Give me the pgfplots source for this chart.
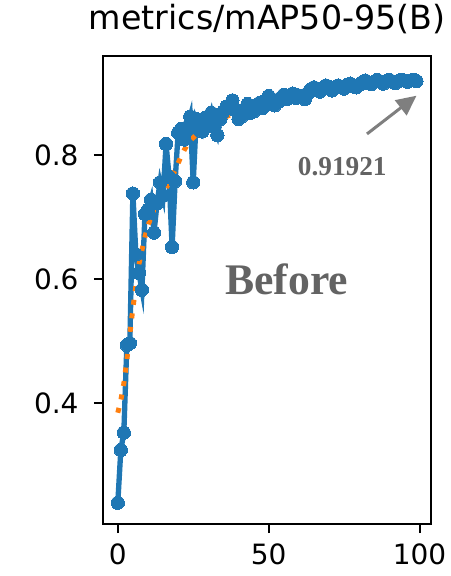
\documentclass[border=0pt]{standalone}
\usepackage{fontspec}
\setmainfont{DejaVu Sans}
\newfontfamily\timesfont{Liberation Serif}
\usepackage{pgfplots}
\pgfplotsset{compat=1.18}
\usetikzlibrary{arrows.meta}
\definecolor{mplblue}{HTML}{1F77B4}
\definecolor{mplorange}{HTML}{FF7F0E}
\definecolor{annot}{HTML}{636363}
\definecolor{arrowgray}{HTML}{7F7F7F}
\begin{document}
\begin{tikzpicture}
\begin{axis}[
  scale only axis, width=246.75pt, height=351.75pt,
  xmin=-4.95, xmax=103.95, ymin=0.2057, ymax=0.9600,
  xtick={0,50,100}, ytick={0.4,0.6,0.8},
  xtick pos=bottom, ytick pos=left,
  yticklabel style={/pgf/number format/fixed, /pgf/number format/precision=1, /pgf/number format/fixed zerofill},
  /pgf/number format/assume math mode=true,
  tick align=outside, major tick length=6.75pt,
  xticklabel shift=4.5pt, yticklabel shift=8pt,
  tick style={black, line width=1.5pt},
  axis line style={line width=1.5pt},
  every tick label/.append style={font=\fontsize{21}{25}\selectfont},
  title={metrics/mAP50-95(B)},
  title style={font=\fontsize{25}{30}\selectfont, at={(0.5,1)}, anchor=base, yshift=13.5pt},
]
\addplot[mplblue, line width=4pt, mark=*, mark size=5pt, mark options={line width=0pt, fill=mplblue, draw=mplblue}] coordinates {
(0,0.240)(1,0.325)(2,0.353)(3,0.494)(4,0.497)(5,0.738)(6,0.640)(7,0.610)(8,0.583)(9,0.705)
(10,0.712)(11,0.728)(12,0.675)(13,0.722)(14,0.756)(15,0.735)(16,0.818)(17,0.765)(18,0.652)(19,0.758)
(20,0.836)(21,0.842)(22,0.825)(23,0.845)(24,0.862)(25,0.756)(26,0.858)(27,0.848)(28,0.838)(29,0.860)
(30,0.852)(31,0.868)(32,0.845)(33,0.832)(34,0.858)(35,0.870)(36,0.878)(37,0.880)(38,0.888)(39,0.872)
(40,0.858)(41,0.862)(42,0.874)(43,0.882)(44,0.868)(45,0.870)(46,0.880)(47,0.884)(48,0.876)(49,0.888)
(50,0.895)(51,0.890)(52,0.880)(53,0.885)(54,0.892)(55,0.897)(56,0.890)(57,0.894)(58,0.899)(59,0.892)
(60,0.896)(61,0.894)(62,0.890)(63,0.900)(64,0.906)(65,0.909)(66,0.905)(67,0.902)(68,0.908)(69,0.912)
(70,0.910)(71,0.904)(72,0.908)(73,0.912)(74,0.909)(75,0.907)(76,0.913)(77,0.915)(78,0.911)(79,0.909)
(80,0.913)(81,0.917)(82,0.920)(83,0.916)(84,0.914)(85,0.918)(86,0.921)(87,0.918)(88,0.915)(89,0.919)
(90,0.921)(91,0.918)(92,0.916)(93,0.919)(94,0.921)(95,0.920)(96,0.918)(97,0.920)(98,0.921)(99,0.919)
};
\addplot[mplorange, line width=3.75pt, dash pattern=on 3.75pt off 6.5pt, line cap=butt, no markers] coordinates {
(0,0.385)(1,0.405)(2,0.432)(3,0.470)(4,0.512)(5,0.553)(6,0.590)(7,0.624)(8,0.647)(9,0.668)
(10,0.686)(11,0.700)(12,0.712)(13,0.722)(14,0.731)(15,0.739)(16,0.747)(17,0.755)(18,0.765)(19,0.776)
(20,0.787)(21,0.798)(22,0.808)(23,0.816)(24,0.823)(25,0.828)(26,0.833)(27,0.838)(28,0.841)(29,0.845)
(30,0.848)(31,0.851)(32,0.853)(33,0.856)(34,0.858)(35,0.860)(36,0.862)(37,0.864)(38,0.866)(39,0.868)
(40,0.870)(41,0.872)(42,0.873)(43,0.875)(44,0.876)(45,0.877)(46,0.878)(47,0.880)(48,0.882)(49,0.884)
(50,0.886)(51,0.888)(52,0.890)(53,0.892)(54,0.894)(55,0.896)(56,0.896)(57,0.897)(58,0.897)(59,0.898)
(60,0.898)(61,0.900)(62,0.902)(63,0.903)(64,0.905)(65,0.906)(66,0.907)(67,0.907)(68,0.908)(69,0.909)
(70,0.909)(71,0.910)(72,0.911)(73,0.911)(74,0.912)(75,0.912)(76,0.913)(77,0.913)(78,0.914)(79,0.915)
(80,0.915)(81,0.916)(82,0.917)(83,0.918)(84,0.919)(85,0.920)(86,0.920)(87,0.920)(88,0.920)(89,0.920)
(90,0.920)(91,0.920)(92,0.920)(93,0.920)(94,0.920)(95,0.920)(96,0.920)(97,0.920)(98,0.920)(99,0.920)
};
\node[font=\timesfont\bfseries\fontsize{32.8}{36}\selectfont, text=annot, inner sep=0pt] at (axis cs:56,0.600) {Before};
\node[font=\timesfont\bfseries\fontsize{20.5}{24}\selectfont, text=annot, inner sep=0pt] at (axis cs:74.4,0.782) {0.91921};
\draw[arrowgray, line width=2.25pt, -{Triangle[length=15pt,width=14pt]}] (axis cs:82.6,0.834) -- (axis cs:99.0,0.8956);
\end{axis}
\path[use as bounding box] ([shift={(-77.25pt,-39pt)}]current axis.south west) rectangle ([shift={(13.5pt,41.25pt)}]current axis.north east);
\end{tikzpicture}
\end{document}
